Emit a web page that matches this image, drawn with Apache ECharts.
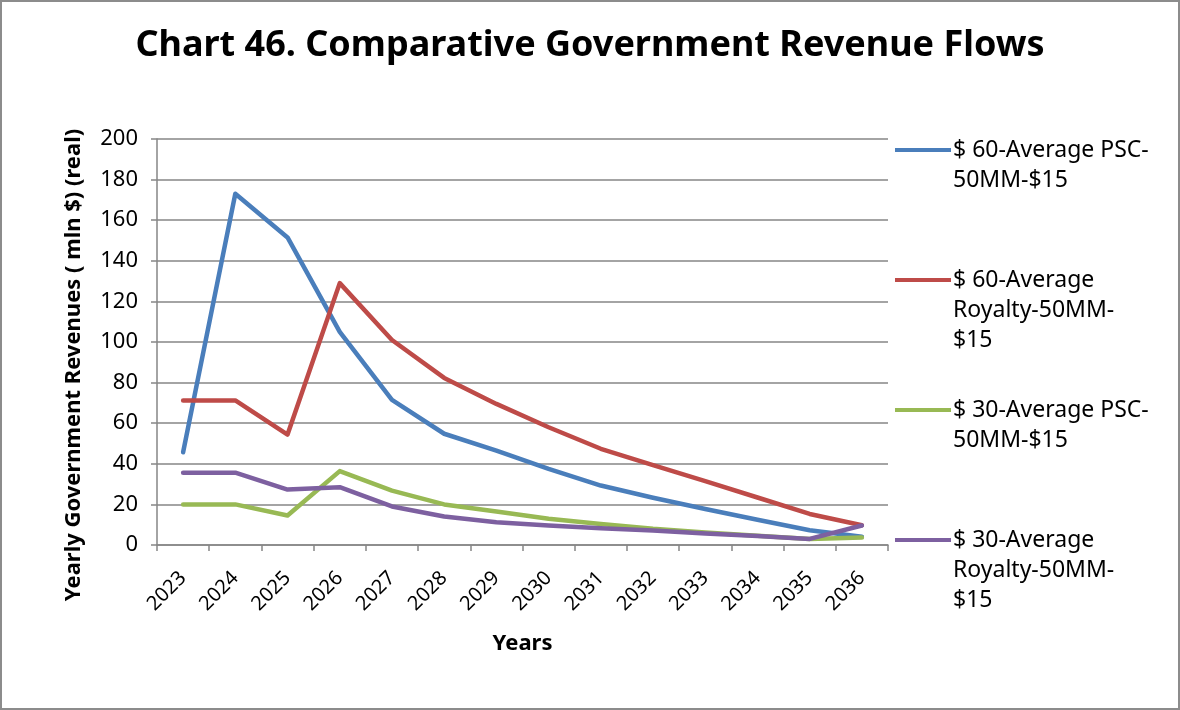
<!DOCTYPE html>
<html>
<head>
<meta charset="utf-8">
<script src="https://cdn.jsdelivr.net/npm/echarts@6/dist/echarts.min.js"></script>
<style>
html,body{margin:0;padding:0;background:#fff;}
#wrap{position:relative;width:1180px;height:710px;}
#chart{position:absolute;left:0;top:0;width:1180px;height:710px;}
#frame{position:absolute;left:0;top:0;width:1180px;height:710px;box-sizing:border-box;border:2px solid #8c8c8c;pointer-events:none;}
</style>
</head>
<body>
<div id="wrap"><div id="chart"></div><div id="frame"></div></div>
<script>
const years = ['2023','2024','2025','2026','2027','2028','2029','2030','2031','2032','2033','2034','2035','2036'];
const psc60     = [45.7, 173, 151.5, 105, 71.5, 54.8, 46.5, 37.5, 29.3, 23.3, 17.7, 12.4, 7.3, 4.1];
const royalty60 = [71.2, 71.2, 54.4, 129, 101, 82.3, 69.5, 58, 47.4, 39.3, 31.5, 23.4, 15.3, 9.7];
const psc30     = [20, 20, 14.5, 36.4, 26.8, 20, 16.5, 12.9, 10.4, 8, 6.2, 4.6, 3, 3.7];
const royalty30 = [35.6, 35.6, 27.3, 28.5, 19, 14, 11.2, 9.6, 8.3, 7.1, 5.7, 4.4, 3, 9.6];
const seriesNames = [
  '$ 60-Average PSC-\n50MM-$15',
  '$ 60-Average\nRoyalty-50MM-\n$15',
  '$ 30-Average PSC-\n50MM-$15',
  '$ 30-Average\nRoyalty-50MM-\n$15'
];
const seriesData = [psc60, royalty60, psc30, royalty30];
const colors = ['#4A7EBB', '#BE4B48', '#98B954', '#7D60A0'];
const legendIconY = [150, 280, 410, 540];

const FONT = 'Noto Sans';
const LH = 30;

const legends = seriesNames.map((name, i) => {
  const n = name.split('\n').length;
  const blockH = (2 * n - 1) * LH;
  return {
    orient: 'vertical',
    left: 895,
    top: legendIconY[i] - blockH / 2,
    data: [name],
    icon: 'rect',
    itemWidth: 56,
    itemHeight: 4,
    itemGap: 0,
    padding: 0,
    formatter: (nm) => '\n'.repeat(nm.split('\n').length - 1) + nm,
    textStyle: { fontFamily: FONT, fontSize: 23, color: '#000', lineHeight: LH, padding: [0, 0, 0, -3] }
  };
});

const chart = echarts.init(document.getElementById('chart'), null, { renderer: 'canvas' });
chart.setOption({
  backgroundColor: '#fff',
  animation: false,
  color: colors,
  title: {
    text: 'Chart 46. Comparative Government Revenue Flows',
    left: 'center',
    top: 23,
    textStyle: { fontFamily: FONT, fontSize: 36, fontWeight: 'bold', color: '#000' }
  },
  legend: legends,
  grid: { left: 157, right: 292, top: 139, bottom: 165, containLabel: false },
  xAxis: {
    type: 'category',
    data: years,
    boundaryGap: true,
    name: 'Years',
    nameLocation: 'middle',
    nameGap: 88,
    nameTextStyle: { fontFamily: FONT, fontSize: 22, fontWeight: 'bold', color: '#000' },
    axisLine: { lineStyle: { color: '#868686', width: 1.5 } },
    axisTick: { show: true, length: 6, alignWithLabel: false, lineStyle: { color: '#868686', width: 1.5 } },
    axisLabel: { rotate: 45, margin: 30, fontFamily: FONT, fontSize: 20, color: '#000', interval: 0 },
    splitLine: { show: false }
  },
  yAxis: {
    type: 'value',
    min: 0,
    max: 200,
    interval: 20,
    name: 'Yearly Government Revenues ( mln $) (real)',
    nameLocation: 'middle',
    nameGap: 72,
    nameTextStyle: { fontFamily: FONT, fontSize: 22, fontWeight: 'bold', color: '#000', padding: [0, 46, 0, 0] },
    axisLine: { show: true, lineStyle: { color: '#868686', width: 1.5 } },
    axisTick: { show: true, length: 6, lineStyle: { color: '#868686', width: 1.5 } },
    axisLabel: { margin: 19, fontFamily: FONT, fontSize: 22, color: '#000' },
    splitLine: { show: true, lineStyle: { color: '#868686', width: 1.5 } }
  },
  series: seriesNames.map((name, i) => ({
    name: name,
    type: 'line',
    data: seriesData[i],
    showSymbol: false,
    symbol: 'none',
    smooth: false,
    lineStyle: { width: 4.5, color: colors[i], cap: 'round', join: 'round' },
    itemStyle: { color: colors[i] },
    emphasis: { disabled: true }
  }))
});
</script>
</body>
</html>
